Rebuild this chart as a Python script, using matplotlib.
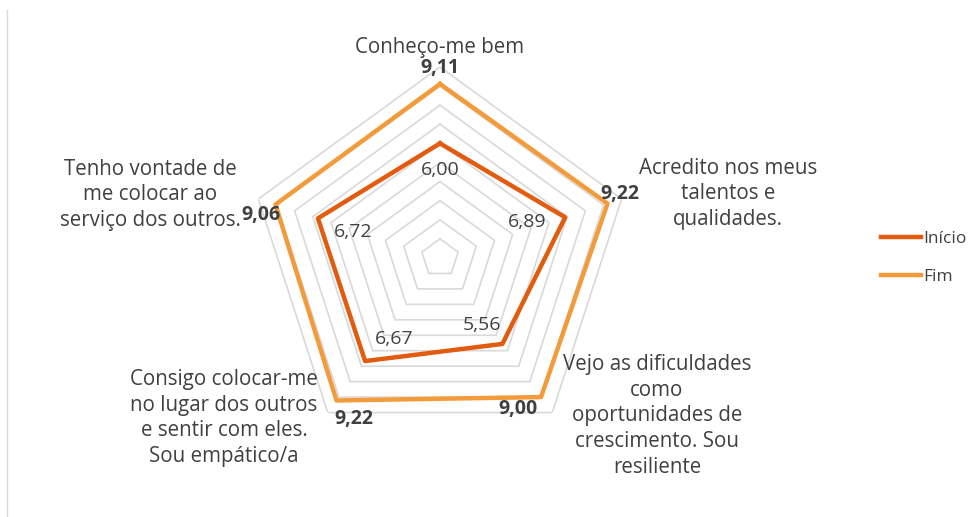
import numpy as np
import matplotlib.pyplot as plt
from matplotlib.lines import Line2D

plt.rcParams['font.family'] = ['Open Sans', 'DejaVu Sans']

categorias = ['Conheço-me bem',
              'Acredito nos meus\ntalentos e\nqualidades.',
              'Vejo as dificuldades\ncomo\noportunidades de\ncrescimento. Sou\nresiliente',
              'Consigo colocar-me\nno lugar dos outros\ne sentir com eles.\nSou empático/a',
              'Tenho vontade de\nme colocar ao\nserviço dos outros.']
inicio = [6.00, 6.89, 5.56, 6.67, 6.72]
fim = [9.11, 9.22, 9.00, 9.22, 9.06]

cor_inicio = '#E35B0E'
cor_fim = '#F39A3A'
cor_texto = '#404040'

W, H = 980, 517
fig = plt.figure(figsize=(W / 100, H / 100), dpi=100)
cx, cy, R = 440, 258, 191
ax = fig.add_axes([(cx - R) / W, (H - cy - R) / H, 2 * R / W, 2 * R / H], projection='polar')
ax.set_theta_offset(np.pi / 2)
ax.set_theta_direction(-1)
ax.set_ylim(0, 10)
ax.grid(False)
ax.set_xticks([])
ax.set_yticks([])
ax.spines['polar'].set_visible(False)
ax.patch.set_alpha(0)

n = len(categorias)
ang = np.linspace(0, 2 * np.pi, n, endpoint=False)
ang_c = np.append(ang, ang[0])

# grelha pentagonal
for r in range(1, 11):
    ax.plot(ang_c, [r] * (n + 1), color='#D9D9D9', lw=1.2, zorder=1)

ax.plot(ang_c, inicio + inicio[:1], color=cor_inicio, lw=3.2, zorder=3, label='Início')
ax.plot(ang_c, fim + fim[:1], color=cor_fim, lw=3.2, zorder=3, label='Fim')

# rotulos de dados
off_ini = [(0, -27), (-38, -5), (-20, 19), (29, 22), (35, -14)]
off_fim = [(0, 16), (12, 10), (-23, -12), (17, -19), (-14, -10)]
for i in range(n):
    ax.annotate(f'{inicio[i]:.2f}'.replace('.', ','), (ang[i], inicio[i]),
                xytext=off_ini[i], textcoords='offset pixels', ha='center', va='center',
                fontsize=14, color=cor_texto, zorder=5)
    ax.annotate(f'{fim[i]:.2f}'.replace('.', ','), (ang[i], fim[i]),
                xytext=off_fim[i], textcoords='offset pixels', ha='center', va='center',
                fontsize=14, fontweight='bold', color=cor_texto, zorder=5)

# rotulos das categorias
pos_cat = [(440, 47), (728, 194), (657, 416), (224, 418), (150, 195)]
for txt, (px, py) in zip(categorias, pos_cat):
    fig.text(px / W, 1 - py / H, txt, ha='center', va='center', fontsize=14.8,
             color=cor_texto, linespacing=1.3)

leg = fig.legend(handles=[Line2D([], [], color=cor_inicio, lw=3.2),
                          Line2D([], [], color=cor_fim, lw=3.2)],
                 labels=['Início', 'Fim'], loc='center left',
                 bbox_to_anchor=(865 / W, 1 - 258 / H), frameon=False,
                 fontsize=12.5, handlelength=2.3, handletextpad=0.15, labelspacing=1.3)
for t in leg.get_texts():
    t.set_color(cor_texto)

fig.add_artist(Line2D([7 / W, 7 / W], [0, 1 - 10 / H], color='#D9D9D9', lw=1))

fig.savefig('out.png', dpi=100, facecolor='white')
